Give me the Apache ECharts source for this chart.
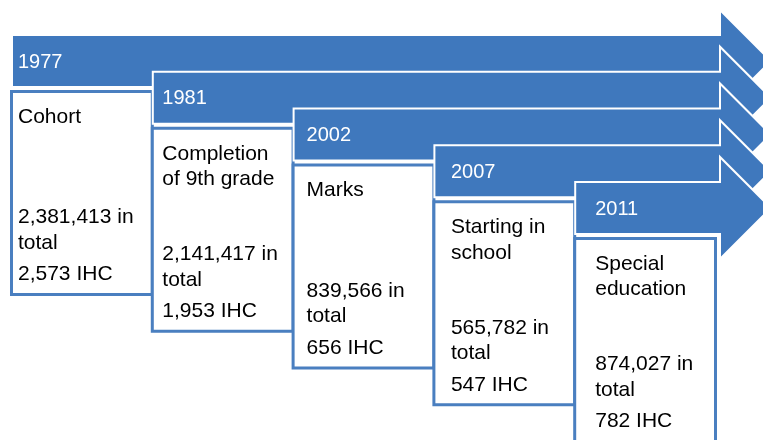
<!DOCTYPE html>
<html><head><meta charset="utf-8">
<script src="https://cdn.jsdelivr.net/npm/echarts@6/dist/echarts.min.js"></script>
<style>html,body{margin:0;padding:0;background:#fff}#c{width:763px;height:440px}</style>
</head><body><div id="c"></div>
<script>
const years = ['1977', '1981', '2002', '2007', '2011'];
const stages = ['Cohort', 'Completion\nof 9th grade', 'Marks', 'Starting in\nschool', 'Special\neducation'];
const totals = [2381413, 2141417, 839566, 565782, 874027];
const ihc = [2573, 1953, 656, 547, 782];

const FILL = '#3f78bd';
const BORDER = '#4a7fc0';
const FONT = '"Liberation Sans", Arial, sans-serif';
const fmt = v => v.toLocaleString('en-US');

const chart = echarts.init(document.getElementById('c'), null, {renderer: 'canvas'});

function renderItem(params, api) {
  const i = api.value(0);
  const p = api.coord([i, i]);
  const x0 = p[0], y0 = p[1];
  const ux = api.size([1, 0])[0];
  const xr = api.coord([5, 0])[0] + 4;
  const bh = 52, ext = 25;
  const half = bh / 2 + ext;
  const children = [];
  children.push({
    type: 'polygon',
    shape: {points: [[x0, y0], [xr, y0], [xr, y0 - ext], [xr + half, y0 + bh / 2], [xr, y0 + bh + ext], [xr, y0 + bh], [x0, y0 + bh]]},
    style: {fill: FILL, stroke: '#ffffff', lineWidth: 2}
  });
  const tx = x0 + 6 + 3.5 * i;
  children.push({
    type: 'text',
    style: {text: years[i], x: tx, y: y0 + bh / 2 + 1, fill: '#ffffff', font: '20px ' + FONT, verticalAlign: 'middle', align: 'left'}
  });
  const by = y0 + 56.5;
  children.push({
    type: 'rect',
    shape: {x: x0 - 0.5, y: by, width: ux, height: 203},
    style: {fill: '#ffffff', stroke: BORDER, lineWidth: 3}
  });
  const lines = stages[i].split('\n');
  lines.forEach((ln, k) => {
    children.push({type: 'text', style: {text: ln, x: tx, y: by + 25.5 + k * 25.5, fill: '#000', font: '21px ' + FONT, verticalAlign: 'middle'}});
  });
  const numLines = [fmt(totals[i]) + ' in', 'total'];
  numLines.forEach((ln, k) => {
    children.push({type: 'text', style: {text: ln, x: tx, y: by + 126 + k * 25.5, fill: '#000', font: '21px ' + FONT, verticalAlign: 'middle'}});
  });
  children.push({type: 'text', style: {text: fmt(ihc[i]) + ' IHC', x: tx, y: by + 183, fill: '#000', font: '21px ' + FONT, verticalAlign: 'middle'}});
  return {type: 'group', children};
}

chart.setOption({
  animation: false,
  grid: {left: 12, right: 47, top: 35, bottom: 258},
  xAxis: {type: 'value', min: 0, max: 5, show: false},
  yAxis: {type: 'value', min: 0, max: 4, inverse: true, show: false},
  series: [{
    type: 'custom',
    clip: false,
    renderItem: renderItem,
    data: years.map((y, i) => [i])
  }]
});
</script></body></html>
